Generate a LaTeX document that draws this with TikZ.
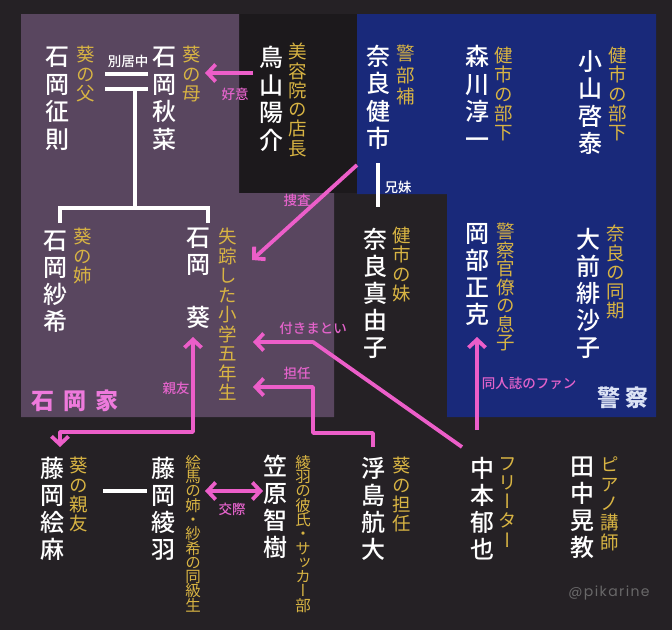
\documentclass[tikz,border=0pt]{standalone}
\usepackage{fontspec}
\usetikzlibrary{arrows.meta}
\setmainfont{Noto Sans CJK JP}
\newfontfamily\jpv[RawFeature=+vert]{Noto Sans CJK JP}
\newfontfamily\jpvm[RawFeature=+vert]{Noto Sans CJK JP Medium}
\newfontfamily\jph{Noto Sans CJK JP}
\newfontfamily\jphm{Noto Sans CJK JP Medium}
\newfontfamily\wmfont{Poppins}
\definecolor{bgc}{HTML}{252125}
\definecolor{boxc}{HTML}{1C191C}
\definecolor{purp}{HTML}{59465F}
\definecolor{polc}{HTML}{19297A}
\definecolor{gold}{HTML}{D8B443}
\definecolor{pinkc}{HTML}{EC5EC9}
\definecolor{pinkt}{HTML}{E463CB}
\definecolor{pinkbig}{HTML}{EE7ADC}
\definecolor{polt}{HTML}{DCE3F5}
\makeatletter
\newcommand\vt[2]{\vbox{\baselineskip=#1\lineskiplimit=-\maxdimen\lineskip=0pt\@tfor\vch:=#2\do{\hbox to 1.1em{\hss\vch\hss}}}}
\makeatother
\begin{document}
\begin{tikzpicture}[x=1pt,y=-1pt,
 nm/.style={anchor=north,inner sep=0pt,text=white,font=\jpvm\fontsize{24}{24}\selectfont},
 ds/.style={anchor=north,inner sep=0pt,text=gold,font=\jpv\fontsize{18.5}{18.5}\selectfont},
 dss/.style={anchor=north,inner sep=0pt,text=gold,font=\jpv\fontsize{15.5}{15.5}\selectfont},
 lbl/.style={inner sep=0pt,text=pinkt,font=\jphm\fontsize{13.5}{13.5}\selectfont},
 wlbl/.style={inner sep=0pt,text=white,font=\jphm\fontsize{13.5}{13.5}\selectfont},
 bigl/.style={inner sep=0pt,font=\jph\bfseries\fontsize{23}{23}\selectfont},
 wline/.style={draw=white,line width=3.4pt},
 pline/.style={draw=pinkc,line width=3.8pt,line join=round},
 arw/.style={-{Straight Barb[length=8pt,width=17pt]}},
 darw/.style={{Straight Barb[length=8pt,width=17pt]}-{Straight Barb[length=8pt,width=17pt]}},
]
\useasboundingbox (0,0) rectangle (672,630);
% backgrounds
\fill[bgc] (0,0) rectangle (672,630);
\fill[boxc] (239,14) rectangle (357,193);
\fill[purp] (21,14) -- (239,14) -- (239,193) -- (334,193) -- (334,417) -- (21,417) -- cycle;
\fill[polc] (357,14) -- (656,14) -- (656,417) -- (447,417) -- (447,194) -- (357,194) -- cycle;

% names and descriptions
\node[nm] (seisoku) at (57,47) {\vt{27.5pt}{石岡征則}};
\node[ds] (dseisoku) at (86,46) {\vt{19.3pt}{葵の父}};
\node[nm] (akina) at (164,47) {\vt{27.5pt}{石岡秋菜}};
\node[ds] (dakina) at (192,46) {\vt{19.3pt}{葵の母}};
\node[nm] (yosuke) at (271,46) {\vt{27.5pt}{鳥山陽介}};
\node[ds] (dyosuke) at (298,43) {\vt{19.3pt}{美容院の店長}};
\node[nm] (kenichi) at (378,45) {\vt{27.5pt}{奈良健市}};
\node[ds] (dkenichi) at (406,45) {\vt{21.5pt}{警部補}};
\node[nm] (junichi) at (477,45) {\vt{27.5pt}{森川淳一}};
\node[ds] (djunichi) at (504,47) {\vt{19.3pt}{健市の部下}};
\node[nm] (keita) at (590,50) {\vt{27.5pt}{小山啓泰}};
\node[ds] (dkeita) at (618,47) {\vt{19.3pt}{健市の部下}};

\node[nm] (saki) at (55,231) {\vt{27pt}{石岡紗希}};
\node[ds] (dsaki) at (83,228) {\vt{19.3pt}{葵の姉}};
\node[nm] (aoi) at (198,228) {\vt{26.5pt}{石岡{}葵}};
\node[ds] (daoi) at (228,228) {\vt{19.5pt}{失踪した小学五年生}};
\node[nm] (mayuko) at (375,228) {\vt{27pt}{奈良真由子}};
\node[ds] (dmayuko) at (402,227) {\vt{19.3pt}{健市の妹}};
\node[nm] (masakatsu) at (477,223) {\vt{27pt}{岡部正克}};
\node[ds] (dmasakatsu) at (506,223) {\vt{18.5pt}{警察官僚の息子}};
\node[nm] (hisako) at (588,228) {\vt{27pt}{大前緋沙子}};
\node[ds] (dhisako) at (616,225) {\vt{19.3pt}{奈良の同期}};

\node[nm] (ema) at (52,457) {\vt{27pt}{藤岡絵麻}};
\node[ds] (dema) at (79,457) {\vt{19.3pt}{葵の親友}};
\node[nm] (ayaha) at (163,457) {\vt{27pt}{藤岡綾羽}};
\node[dss] (dayaha) at (193,455) {\vt{14.3pt}{絵馬の姉・紗希の同級生}};
\node[nm] (tomoki) at (275,455) {\vt{27pt}{笠原智樹}};
\node[dss] (dtomoki) at (303,455) {\vt{14.3pt}{綾羽の彼氏・サッカー部}};
\node[nm] (kodai) at (373,457) {\vt{27pt}{浮島航大}};
\node[ds] (dkodai) at (402,457) {\vt{19.3pt}{葵の担任}};
\node[nm] (ikuya) at (482,457) {\vt{27pt}{中本郁也}};
\node[ds] (dikuya) at (508,457) {\vt{19.3pt}{フリーター}};
\node[nm] (akinori) at (582,457) {\vt{27pt}{田中晃教}};
\node[ds] (dakinori) at (610,457) {\vt{19.3pt}{ピアノ講師}};

% small labels
\node[wlbl] (lbekkyo) at (128,61) {別居中};
\node[wlbl] (lkyodai) at (398,187) {兄妹};
\node[lbl] (lkoui) at (235,94) {好意};
\node[lbl] (lsosa) at (297,200) {捜査};
\node[lbl] (ltsuki) at (313,328) {付きまとい};
\node[lbl] (ltannin) at (297,373) {担任};
\node[lbl] (lshinyu) at (176,388) {親友};
\node[lbl] (lfan) at (529,383) {同人誌のファン};
\node[lbl] (lkosai) at (232,509) {交際};

% group labels
\node[bigl,text=pinkbig] (gishioka) at (75,401) {石\kern9pt岡\kern9pt家};
\node[bigl,text=polt] (gpolice) at (623,398) {警\kern5pt察};
\node[text=gray!75!bgc,font=\wmfont\addfontfeatures{LetterSpace=10}\fontsize{14}{14}\selectfont,inner sep=0pt] (wm) at (609,593) {@pikarine};

% white family lines
\coordinate (m1a) at (105,74); \coordinate (m1b) at (148,74);
\coordinate (m2a) at (105,89); \coordinate (m2b) at (148,89);
\coordinate (mc) at (135,89); \coordinate (fj) at (135,208);
\coordinate (fs) at (60,223); \coordinate (fa) at (208,223);
\draw[wline] (m1a) -- (m1b);
\draw[wline] (m2a) -- (m2b);
\draw[wline] (mc) -- (fj);
\draw[wline] (fs) |- (fj) -| (fa);
\coordinate (k1) at (378,163); \coordinate (k2) at (378,207);
\draw[wline] (k1) -- (k2);
\coordinate (e1) at (103,491); \coordinate (e2) at (147,491);
\draw[wline] (e1) -- (e2);

% pink relation arrows
\coordinate (p1s) at (253,73); \coordinate (p1e) at (205,73);
\draw[pline,arw] (p1s) -- (p1e);
\coordinate (p2s) at (357,165); \coordinate (p2e) at (252,260);
\draw[pline,arw] (p2s) -- (p2e);
\coordinate (p3s) at (462,447); \coordinate (p3m) at (313,342); \coordinate (p3e) at (253,342);
\draw[pline,arw] (p3s) -- (p3m) -- (p3e);
\coordinate (p4s) at (373,447); \coordinate (p4e) at (253,387);
\draw[pline,arw] (p4s) -- (373,433) -- (313,433) -- (313,387) -- (p4e);
\coordinate (p5s) at (193,337); \coordinate (p5e) at (60,447);
\draw[pline,darw] (p5s) -- (193,432) -- (60,432) -- (p5e);
\coordinate (p6s) at (477,430); \coordinate (p6e) at (477,337);
\draw[pline,arw] (p6s) -- (p6e);
\coordinate (p7s) at (205,491); \coordinate (p7e) at (263,491);
\draw[pline,darw] (p7s) -- (p7e);
\end{tikzpicture}
\end{document}
